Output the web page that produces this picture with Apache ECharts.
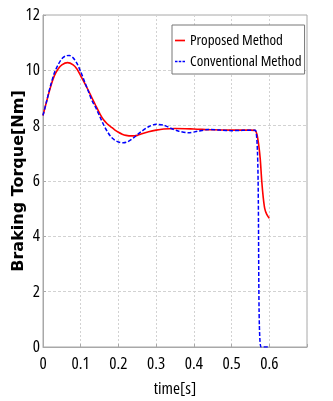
<!DOCTYPE html>
<html>
<head>
<meta charset="utf-8">
<script src="https://cdn.jsdelivr.net/npm/echarts@6/dist/echarts.min.js"></script>
<style>
    html, body {margin: 0; padding: 0; background: #fff;}
    #main {width: 333px; height: 401px;}
</style>
</head>
<body>
<div id="main"></div>
<script>
// 数据
var proposedTime = [0, 0.01, 0.02, 0.03, 0.04, 0.05, 0.065, 0.08, 0.09, 0.1, 0.11, 0.12, 0.13, 0.14, 0.15, 0.16, 0.17, 0.18, 0.19, 0.2, 0.21, 0.22, 0.235, 0.25, 0.26, 0.28, 0.3, 0.32, 0.35, 0.4, 0.45, 0.5, 0.55, 0.562, 0.567, 0.572, 0.576, 0.58, 0.584, 0.588, 0.593, 0.6];
var proposedTorque = [8.37, 8.9, 9.4, 9.8, 10.05, 10.2, 10.28, 10.2, 10.05, 9.8, 9.55, 9.28, 9.0, 8.72, 8.45, 8.22, 8.07, 7.96, 7.85, 7.76, 7.69, 7.65, 7.63, 7.65, 7.7, 7.78, 7.84, 7.88, 7.9, 7.88, 7.85, 7.84, 7.84, 7.83, 7.7, 7.3, 6.8, 6.0, 5.4, 5.0, 4.8, 4.65];

var conventionalTime = [0, 0.01, 0.02, 0.03, 0.04, 0.05, 0.06, 0.07, 0.08, 0.09, 0.1, 0.11, 0.12, 0.13, 0.14, 0.15, 0.16, 0.17, 0.18, 0.19, 0.2, 0.213, 0.225, 0.24, 0.26, 0.28, 0.3, 0.32, 0.34, 0.36, 0.386, 0.41, 0.44, 0.47, 0.5, 0.53, 0.563, 0.578, 0.6];
var conventionalTorque = [8.37, 8.9, 9.45, 9.9, 10.2, 10.42, 10.52, 10.54, 10.45, 10.25, 9.95, 9.6, 9.25, 8.9, 8.65, 8.35, 8.05, 7.8, 7.6, 7.48, 7.41, 7.38, 7.42, 7.56, 7.78, 7.96, 8.05, 8.02, 7.9, 7.8, 7.74, 7.8, 7.86, 7.84, 7.82, 7.83, 7.83, 0, 0];

function pairs(xs, ys) {
    var out = [];
    for (var i = 0; i < xs.length; i++) {
        out.push([xs[i], ys[i]]);
    }
    return out;
}

var chartDom = document.getElementById('main');
var myChart = echarts.init(chartDom, null, {renderer: 'canvas'});
// Open Sans has a width axis, 'condensed' gives the narrow look of the original
var narrow = '"Open Sans", sans-serif';
var frame = '#a8a8a8';
var option;

option = {
    backgroundColor: '#ffffff',
    animation: false,
    grid: {
        left: 43,
        right: 26,
        top: 15,
        bottom: 54,
        outerBoundsMode: 'none',
        show: true,
        borderColor: frame,
        borderWidth: 1
    },
    legend: {
        orient: 'vertical',
        left: 172,
        top: 25,
        padding: [8, 3, 5, 3],
        itemWidth: 10,
        itemHeight: 2,
        itemGap: 6,
        backgroundColor: '#ffffff',
        borderColor: '#777777',
        borderWidth: 1,
        textStyle: {
            color: '#000',
            fontSize: 15,
            fontWeight: 'condensed',
            fontFamily: narrow
        },
        data: [
            {name: 'Proposed Method', icon: 'path://M0,0H12V2H0Z'},
            {name: 'Conventional Method', icon: 'path://M0,0H3V2H0ZM4.5,0H7.5V2H4.5ZM9,0H12V2H9Z'}
        ]
    },
    xAxis: {
        type: 'value',
        min: 0,
        max: 0.7,
        interval: 0.1,
        name: 'time[s]',
        nameLocation: 'middle',
        nameGap: 34,
        nameMoveOverlap: false,
        nameTextStyle: {
            color: '#000',
            fontSize: 17,
            fontWeight: 'condensed',
            fontFamily: narrow
        },
        axisLine: {lineStyle: {color: frame}},
        axisTick: {show: true, inside: true, length: 3, lineStyle: {color: frame}},
        axisLabel: {
            color: '#000',
            fontSize: 17,
            fontWeight: 'condensed',
            fontFamily: narrow,
            margin: 9,
            formatter: function (v) {
                return v > 0.65 ? '' : (Math.round(v * 10) / 10).toString();
            }
        },
        splitLine: {lineStyle: {color: '#d2d2d2', type: [2, 2]}}
    },
    yAxis: {
        type: 'value',
        min: 0,
        max: 12,
        interval: 2,
        name: 'Braking Torque[Nm]',
        nameLocation: 'middle',
        nameGap: 16,
        nameMoveOverlap: false,
        nameTextStyle: {
            color: '#000',
            fontSize: 16,
            fontWeight: 'bold',
            fontFamily: '"DejaVu Sans", sans-serif'
        },
        axisLine: {show: true, lineStyle: {color: frame}},
        axisTick: {show: true, inside: true, length: 3, lineStyle: {color: frame}},
        axisLabel: {
            color: '#000',
            fontSize: 17,
            fontWeight: 'condensed',
            fontFamily: narrow,
            margin: 3
        },
        splitLine: {lineStyle: {color: '#d2d2d2', type: [3, 2]}}
    },
    series: [
        {
            name: 'Proposed Method',
            type: 'line',
            symbol: 'none',
            smooth: 0.3,
            itemStyle: {color: '#ff0000'},
            lineStyle: {color: '#ff0000', width: 1.6},
            data: pairs(proposedTime, proposedTorque)
        },
        {
            name: 'Conventional Method',
            type: 'line',
            symbol: 'none',
            smooth: 0.3,
            itemStyle: {color: '#0000ff'},
            lineStyle: {color: '#0000ff', width: 1.5, type: [4, 2]},
            data: pairs(conventionalTime, conventionalTorque)
        }
    ]
};

option && myChart.setOption(option);
</script>
</body>
</html>
